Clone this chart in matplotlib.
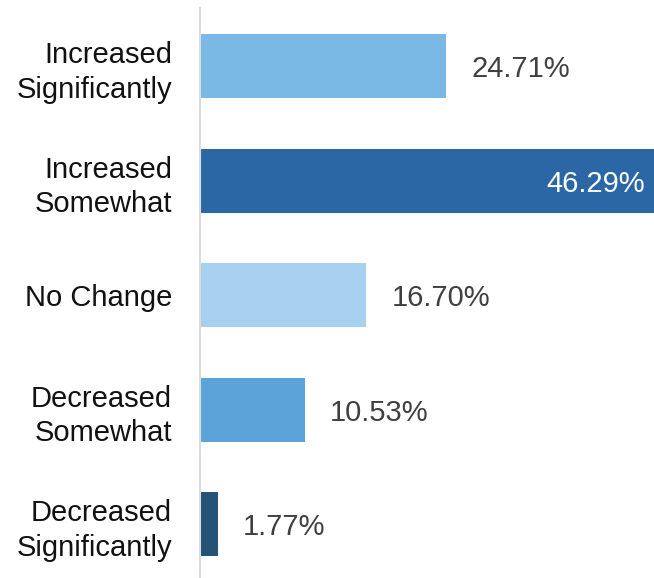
import matplotlib.pyplot as plt

plt.rcParams['font.family'] = ['Liberation Sans', 'DejaVu Sans']

# -- Survey responses
categories = ['Increased\nSignificantly', 'Increased\nSomewhat', 'No Change',
              'Decreased\nSomewhat', 'Decreased\nSignificantly']
values = [24.71, 46.29, 16.70, 10.53, 1.77]
colors = ['#7AB8E5', '#2B67A5', '#A8D0EF', '#5BA3D9', '#255378']

fig = plt.figure(figsize=(6.54, 5.78), dpi=100)
ax = fig.add_axes([200 / 654, 0, 1 - 200 / 654, 1 - 8 / 578])

pos = list(range(len(values)))
ax.barh(pos, values, height=0.56, color=colors)

# -- longest bar runs off the right edge
ax.set_xlim(0, 45.6)
ax.set_ylim(4.47, -0.507)

ax.set_yticks(pos)
ax.set_yticklabels(categories, fontsize=21, color='#111111', linespacing=1.3)
ax.tick_params(axis='y', length=0, pad=20)
ax.set_xticks([])

for s in ['top', 'right', 'bottom']:
    ax.spines[s].set_visible(False)
ax.spines['left'].set_color('#dcdcdc')
ax.spines['left'].set_linewidth(1.5)

# -- Value labels: inside the longest bar, outside the rest
for p, v in zip(pos, values):
    txt = f'{v:.2f}%'
    if v == max(values):
        ax.annotate(txt, (1.0, p), xycoords=('axes fraction', 'data'),
                    xytext=(-9, -3), textcoords='offset pixels',
                    ha='right', va='center', fontsize=21, color='white')
    else:
        ax.annotate(txt, (v, p), xytext=(25, -3), textcoords='offset pixels',
                    ha='left', va='center', fontsize=21, color='#404040')

fig.savefig('out.png', dpi=100)
